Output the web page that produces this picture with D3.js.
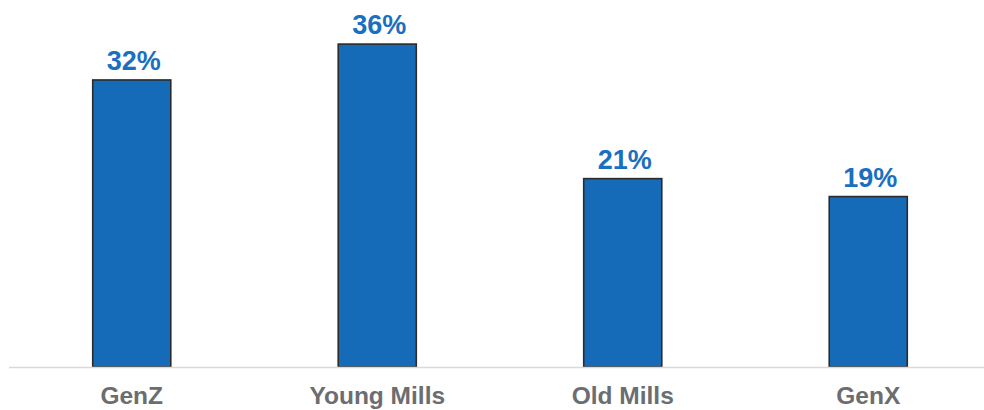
<!DOCTYPE html>
<html>
<head>
<meta charset="utf-8">
<script src="https://cdn.jsdelivr.net/npm/d3@7"></script>
<style>
  body { margin: 0; background: #fff; }
  svg { display: block; font-family: "Liberation Sans", Arial, sans-serif; }
</style>
</head>
<body>
<svg id="chart"></svg>
<script>
var categories = ["GenZ", "Young Mills", "Old Mills", "GenX"];
var values = [32, 36, 21, 19];
var valueLabels = ["32%", "36%", "21%", "19%"];

var width = 984;
var height = 410;
var baseline = 367;

var svg = d3.select('#chart')
    .attr("width", width)
    .attr("height", height);

var xscale = d3.scaleBand()
    .domain(categories)
    .range([9, 991])
    .paddingInner(0.682)
    .paddingOuter(0.341);

var yscale = d3.scaleLinear()
    .domain([0, 40])
    .range([baseline, 8.2]);

// bars
svg.selectAll('rect.bar')
    .data(values)
    .enter()
    .append('rect')
    .classed('bar', true)
    .attr("x", (d, i) => xscale(categories[i]))
    .attr("y", d => yscale(d))
    .attr("width", xscale.bandwidth())
    .attr("height", d => baseline - yscale(d))
    .attr("fill", "#156bb8")
    .attr("stroke", "#2b2b2b")
    .attr("stroke-width", 1.6);

// axis line
svg.append('line')
    .attr("x1", 9)
    .attr("x2", width)
    .attr("y1", baseline + 0.5)
    .attr("y2", baseline + 0.5)
    .attr("stroke", "#d9d9d9")
    .attr("stroke-width", 1.5);

// value labels
svg.selectAll('text.value')
    .data(values)
    .enter()
    .append('text')
    .classed('value', true)
    .attr("x", (d, i) => xscale(categories[i]) + xscale.bandwidth() / 2 + 2)
    .attr("y", d => yscale(d) - 10)
    .attr("text-anchor", "middle")
    .attr("font-size", "27px")
    .attr("font-weight", "bold")
    .attr("fill", "#1b6fc0")
    .text((d, i) => valueLabels[i]);

// category labels
svg.selectAll('text.cat')
    .data(categories)
    .enter()
    .append('text')
    .classed('cat', true)
    .attr("x", d => xscale(d) + xscale.bandwidth() / 2)
    .attr("y", 404)
    .attr("text-anchor", "middle")
    .attr("font-size", "24.5px")
    .attr("font-weight", "bold")
    .attr("fill", "#6b6d70")
    .text(d => d);
</script>
</body>
</html>
